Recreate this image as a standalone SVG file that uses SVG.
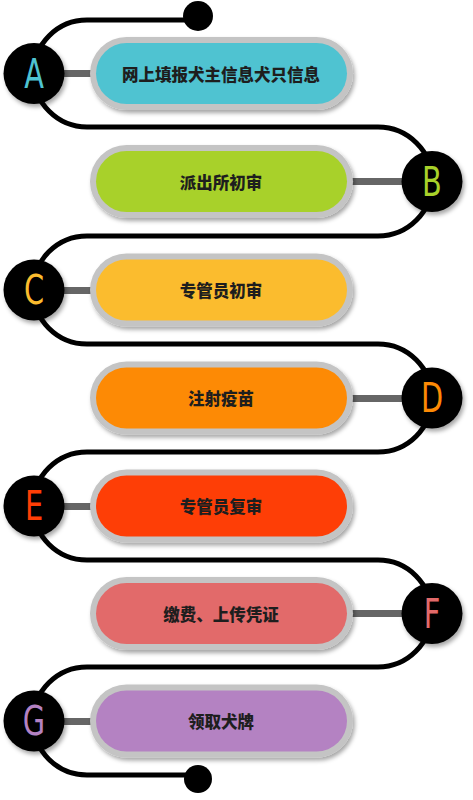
<svg xmlns="http://www.w3.org/2000/svg" width="473" height="800" viewBox="0 0 473 800">
<style>
.rim{fill:#c4c4c4}
.lbl{font-family:"Noto Sans CJK SC","Noto Sans",sans-serif;font-weight:900;font-size:16.5px;fill:#1e1e1e;text-anchor:middle;dominant-baseline:central}
.bar{fill:#666}
.dot{fill:#000}
.let{font-family:"DejaVu Sans Condensed","DejaVu Sans",sans-serif;font-weight:normal;font-size:40px;text-anchor:middle}
.snake{fill:none;stroke:#000;stroke-width:5}
</style>
<defs>
<filter id="sh" x="-10%" y="-20%" width="125%" height="150%">
<feDropShadow dx="2" dy="3" stdDeviation="2" flood-color="#000" flood-opacity="0.35"/>
</filter>
</defs>
<g id="connectors">
<path class="snake" d="M198 20 H87 A53.5 53.5 0 0 0 87 127 H378 A54.5 54.5 0 0 1 378 236 H87 A54 54 0 0 0 87 344 H378 A54 54 0 0 1 378 452 H87 A54 54 0 0 0 87 560 H378 A53.5 53.5 0 0 1 378 667 H87 A54 54 0 0 0 87 775 H198"/>
<circle class="dot" cx="198" cy="16" r="15"/>
<circle class="dot" cx="198" cy="779" r="14"/>
<rect class="bar" x="60" y="70" width="34" height="7"/>
<rect class="bar" x="350" y="178" width="56" height="7"/>
<rect class="bar" x="60" y="287" width="34" height="7"/>
<rect class="bar" x="350" y="395" width="56" height="7"/>
<rect class="bar" x="60" y="503" width="34" height="7"/>
<rect class="bar" x="350" y="610" width="56" height="7"/>
<rect class="bar" x="60" y="718" width="34" height="7"/>
</g>
<g id="A">
<rect class="rim" x="90" y="37" width="263" height="73" rx="36.5" filter="url(#sh)"/>
<rect x="96" y="43" width="251" height="61" rx="30.5" fill="#4fc3d1"/>
<text class="lbl" x="221" y="73.5">网上填报犬主信息犬只信息</text>
<circle cx="34" cy="73.5" r="30.5" fill="#000" filter="url(#sh)"/>
<text class="let" x="34" y="88" fill="#4fc3d1" transform="translate(34 0) scale(0.8 1) translate(-34 0)">A</text>
</g>
<g id="B">
<rect class="rim" x="90" y="145" width="263" height="73" rx="36.5" filter="url(#sh)"/>
<rect x="96" y="151" width="251" height="61" rx="30.5" fill="#a8d12a"/>
<text class="lbl" x="221" y="181.5">派出所初审</text>
<circle cx="432" cy="181.5" r="30.5" fill="#000" filter="url(#sh)"/>
<text class="let" x="432" y="196" fill="#a8d12a" transform="translate(432 0) scale(0.8 1) translate(-432 0)">B</text>
</g>
<g id="C">
<rect class="rim" x="90" y="253.5" width="263" height="73" rx="36.5" filter="url(#sh)"/>
<rect x="96" y="259.5" width="251" height="61" rx="30.5" fill="#fbbc2e"/>
<text class="lbl" x="221" y="290">专管员初审</text>
<circle cx="34" cy="290" r="30.5" fill="#000" filter="url(#sh)"/>
<text class="let" x="34" y="304.5" fill="#fbbc2e" transform="translate(34 0) scale(0.8 1) translate(-34 0)">C</text>
</g>
<g id="D">
<rect class="rim" x="90" y="361.5" width="263" height="73" rx="36.5" filter="url(#sh)"/>
<rect x="96" y="367.5" width="251" height="61" rx="30.5" fill="#fd8a05"/>
<text class="lbl" x="221" y="398">注射疫苗</text>
<circle cx="432" cy="398" r="30.5" fill="#000" filter="url(#sh)"/>
<text class="let" x="432" y="412.5" fill="#fd8a05" transform="translate(432 0) scale(0.8 1) translate(-432 0)">D</text>
</g>
<g id="E">
<rect class="rim" x="90" y="469.5" width="263" height="73" rx="36.5" filter="url(#sh)"/>
<rect x="96" y="475.5" width="251" height="61" rx="30.5" fill="#fe3e06"/>
<text class="lbl" x="221" y="506">专管员复审</text>
<circle cx="34" cy="506" r="30.5" fill="#000" filter="url(#sh)"/>
<text class="let" x="34" y="520.5" fill="#fe3e06" transform="translate(34 0) scale(0.8 1) translate(-34 0)">E</text>
</g>
<g id="F">
<rect class="rim" x="90" y="577" width="263" height="73" rx="36.5" filter="url(#sh)"/>
<rect x="96" y="583" width="251" height="61" rx="30.5" fill="#e26a6a"/>
<text class="lbl" x="221" y="613.5">缴费、上传凭证</text>
<circle cx="432" cy="613.5" r="30.5" fill="#000" filter="url(#sh)"/>
<text class="let" x="432" y="628" fill="#e26a6a" transform="translate(432 0) scale(0.8 1) translate(-432 0)">F</text>
</g>
<g id="G">
<rect class="rim" x="90" y="684.5" width="263" height="73" rx="36.5" filter="url(#sh)"/>
<rect x="96" y="690.5" width="251" height="61" rx="30.5" fill="#b482c2"/>
<text class="lbl" x="221" y="721">领取犬牌</text>
<circle cx="34" cy="721" r="30.5" fill="#000" filter="url(#sh)"/>
<text class="let" x="34" y="735.5" fill="#b482c2" transform="translate(34 0) scale(0.8 1) translate(-34 0)">G</text>
</g>
</svg>
